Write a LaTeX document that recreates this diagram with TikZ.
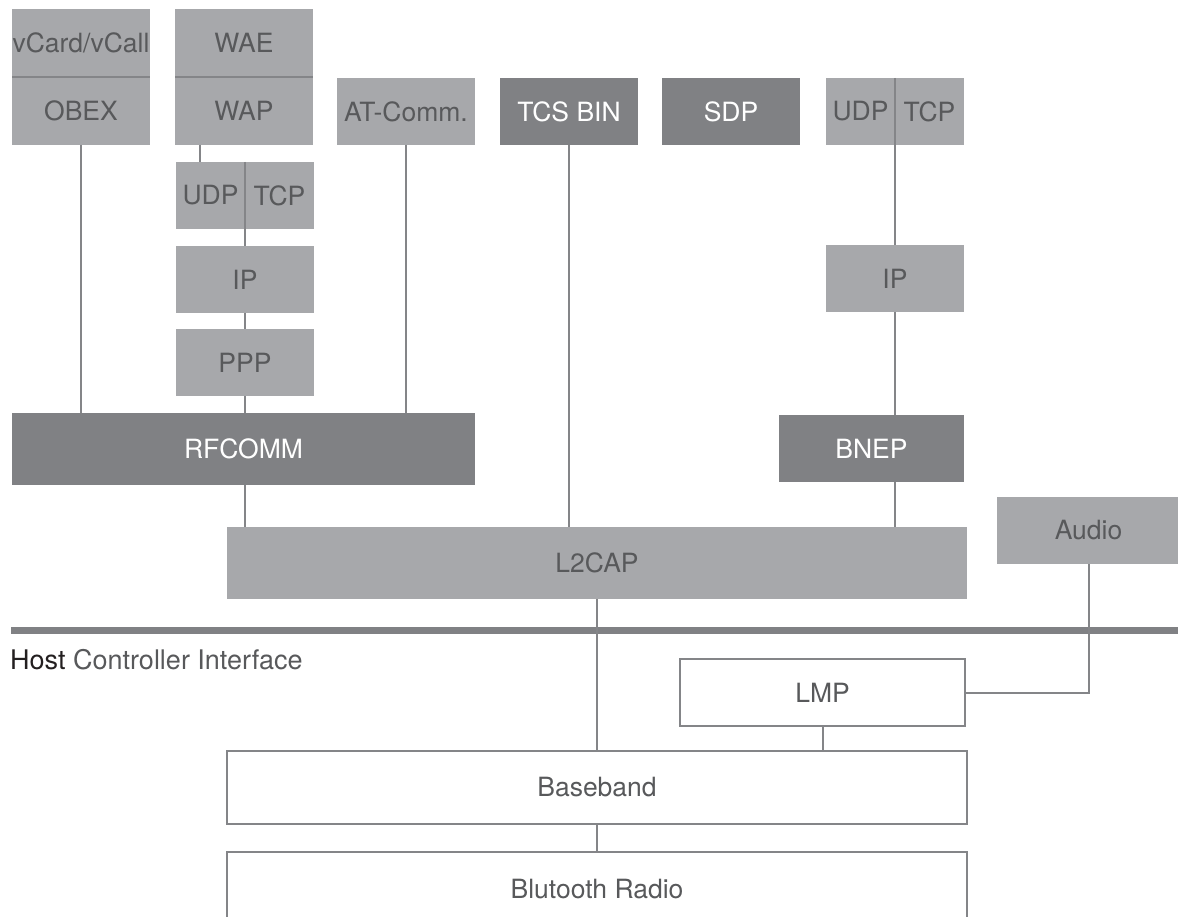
\documentclass[tikz,border=0pt]{standalone}
\usepackage{fontspec}
\setmainfont{TeX Gyre Heros}
\definecolor{lightfill}{HTML}{A7A8AB}
\definecolor{darkfill}{HTML}{808184}
\definecolor{linec}{HTML}{848588}
\definecolor{txt}{HTML}{58595B}
\definecolor{hostc}{HTML}{231F20}
\tikzset{
  layer/.style={rectangle, inner sep=0pt, outer sep=0pt, text=txt,
    font=\fontsize{26.5}{31}\selectfont, minimum height=67pt},
  light/.style={layer, fill=lightfill},
  dark/.style={layer, fill=darkfill, text=white},
  open/.style={layer, fill=white, draw=linec, line width=2pt},
  link/.style={draw=linec, line width=2pt},
}
\begin{document}
\begin{tikzpicture}[x=1pt, y=-1pt]
\useasboundingbox (0,0) rectangle (1178,917);
\clip (0,0) rectangle (1178,917);

% upper protocol layers
\node[light, minimum width=138pt, minimum height=68pt] (vcard) at (81,43) {vCard/vCall};
\node[light, minimum width=138pt, minimum height=68pt] (obex)  at (81,111) {OBEX};
\node[light, minimum width=138pt, minimum height=68pt] (wae)   at (244,43) {WAE};
\node[light, minimum width=138pt, minimum height=68pt] (wap)   at (244,111) {WAP};
\node[light, minimum width=138pt] (at)  at (406,111.5) {AT-Comm.};
\node[dark,  minimum width=138pt] (tcs) at (569,111.5) {TCS BIN};
\node[dark,  minimum width=138pt] (sdp) at (731,111.5) {SDP};
\node[light, minimum width=69pt] (udpR) at (860.5,111.5) {UDP};
\node[light, minimum width=69pt] (tcpR) at (929.5,111.5) {TCP};

% WAP transport stack
\node[light, minimum width=69pt] (udpL) at (210.5,195.5) {UDP};
\node[light, minimum width=69pt] (tcpL) at (279.5,195.5) {TCP};
\node[light, minimum width=138pt] (ipL)  at (245,279.5) {IP};
\node[light, minimum width=138pt] (ppp)  at (245,362.5) {PPP};

% right-hand IP stack
\node[light, minimum width=138pt] (ipR)  at (895,278.5) {IP};
\node[dark,  minimum width=185pt] (bnep) at (871.5,448.5) {BNEP};

% RFCOMM, L2CAP and audio
\node[dark,  minimum width=463pt, minimum height=72pt] (rfcomm) at (243.5,449) {RFCOMM};
\node[light, minimum width=740pt, minimum height=72pt] (l2cap)  at (597,563) {L2CAP};
\node[light, minimum width=183pt] (audio) at (1088.5,530.5) {Audio};

% host controller interface
\node[rectangle, fill=darkfill, inner sep=0pt, minimum width=1167pt, minimum height=7pt] (hci) at (594.5,630.5) {};
\node[anchor=base west, inner sep=0pt, text=txt, font=\fontsize{27}{32}\selectfont] (hcilabel) at (10,669)
  {\textcolor{hostc}{Host} Controller Interface};

% controller layers
\node[open, minimum width=285pt] (lmp) at (822.5,692.5) {LMP};
\node[open, minimum width=740pt, minimum height=73pt] (baseband) at (597,787.5) {Baseband};
\node[open, minimum width=740pt, minimum height=74pt] (radio) at (597,889) {Blutooth Radio};

% dividers inside stacked boxes
\draw[link] (vcard.south west) -- (vcard.south east);
\draw[link] (wae.south west) -- (wae.south east);

% connectors
\draw[link] (obex.south) -- (obex.south |- rfcomm.north);
\draw[link] ([xshift=25pt]wap.south west) -- ([xshift=24pt]udpL.north west);
\draw[link] (udpL.north east) -- (ipL.north);
\draw[link] (ipL.south) -- (ppp.north);
\draw[link] (ppp.south) -- (ppp.south |- rfcomm.north);
\draw[link] (at.south) -- (at.south |- rfcomm.north);
\draw[link] (rfcomm.south -| ppp.south) -- (l2cap.north -| ppp.south);
\draw[link] (tcs.south) -- (tcs.south |- l2cap.north);
\draw[link] (udpR.north east) -- (ipR.north);
\draw[link] (ipR.south) -- (ipR.south |- bnep.north);
\draw[link] (bnep.south -| ipR.south) -- (l2cap.north -| ipR.south);
\draw[link] (l2cap.south) -- (baseband.north);
\draw[link] (audio.south) |- (lmp.east);
\draw[link] (lmp.south) -- (lmp.south |- baseband.north);
\draw[link] (baseband.south) -- (radio.north);
\end{tikzpicture}
\end{document}
